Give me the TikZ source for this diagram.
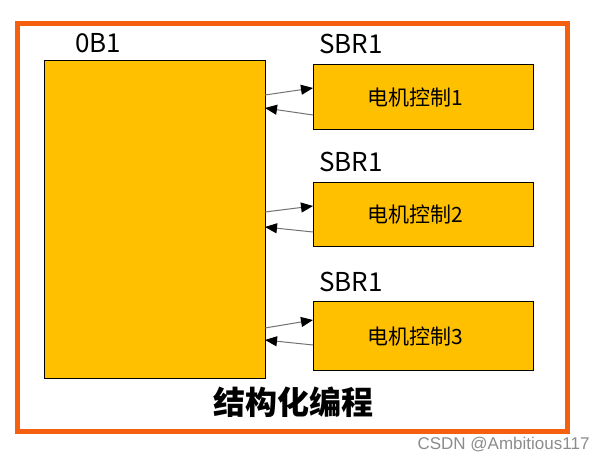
\documentclass[tikz,border=0pt]{standalone}
\usepackage{fontspec}
\setmainfont{Noto Sans CJK SC}
\newfontfamily\wmfont{Liberation Sans}
\usetikzlibrary{arrows.meta}
\definecolor{gold}{HTML}{FFC000}
\definecolor{frameorange}{HTML}{F4600F}
\tikzset{
  blk/.style={draw=black, line width=1.3pt, fill=gold, anchor=north west, inner sep=0pt},
  lbl/.style={anchor=base west, inner sep=0pt, font=\fontsize{26}{26}\selectfont},
  conn/.style={draw=black!55, line width=1pt, -{Triangle[length=12pt,width=10pt,color=black]}},
}
\begin{document}
\begin{tikzpicture}[x=1pt,y=-1pt]
\useasboundingbox (0,0) rectangle (607,462);
\fill[white] (0,0) rectangle (607,462);
\node[draw=frameorange, line width=5pt, minimum width=550.5pt, minimum height=407pt, anchor=north west, inner sep=0pt] (frame) at (14.8,21.5) {};
\node[blk, minimum width=221pt, minimum height=318pt] (ob) at (44,60) {};
\node[lbl] (oblbl) at (75,53) {0B1};
\foreach \i/\y/\h in {1/64/65, 2/182/64, 3/301/69} {
  \node[blk, minimum width=220pt, minimum height=\h pt] (s\i) at (313,\y) {};
  \node[font=\fontsize{21}{21}\selectfont, inner sep=0pt] (t\i) at ([xshift=-8pt]s\i.center) {电机控制\i};
  \node[lbl] (l\i) at (319,\y-10) {SBR1};
}
\coordinate (a1) at (265,95); \coordinate (b1) at (265,108);
\coordinate (a2) at (265,212); \coordinate (b2) at (265,227);
\coordinate (a3) at (265,328); \coordinate (b3) at (265,340);
\draw[conn] (a1) -- (s1.west |- 0,88);
\draw[conn] (s1.west |- 0,115) -- (b1);
\draw[conn] (a2) -- (s2.west |- 0,206);
\draw[conn] (s2.west |- 0,232) -- (b2);
\draw[conn] (a3) -- (s3.west |- 0,320);
\draw[conn] (s3.west |- 0,345) -- (b3);
\node[font=\fontsize{32}{32}\selectfont\bfseries] (title) at (293,402) {结构化编程};
\node[font=\wmfont\fontsize{17}{17}\selectfont, text=black!45, anchor=east] (wm) at (593,445) {CSDN @Ambitious117};
\end{tikzpicture}
\end{document}
